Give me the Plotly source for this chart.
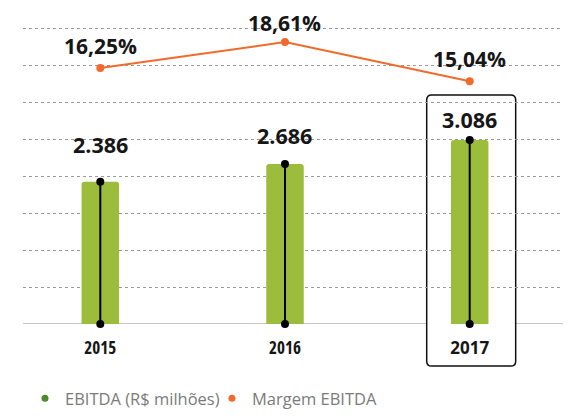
import plotly.graph_objects as go

# ---- data ----
years = ["2015", "2016", "2017"]
ebitda = [2386, 2686, 3086]                 # R$ milhões
ebitda_labels = ["2.386", "2.686", "3.086"]
margem = [16.25, 18.61, 15.04]              # %
margem_labels = ["16,25%", "18,61%", "15,04%"]
highlight_year = "2017"

# ---- style ----
GREEN = "#9bbd3b"
GREEN_DARK = "#4e8b2c"
ORANGE = "#f26a2b"
TEXT = "#161616"
FONT = "Open Sans"

x = list(range(len(years)))
hi = years.index(highlight_year)

fig = go.Figure()

# bars
fig.add_bar(x=x, y=ebitda, width=0.203, marker=dict(color=GREEN, line_width=0,
            cornerradius=3), showlegend=False, hoverinfo="skip")

# stems with dots
sx, sy = [], []
for xi, v in zip(x, ebitda):
    sx += [xi, xi, None]
    sy += [0, v, None]
fig.add_scatter(x=sx, y=sy, mode="lines+markers",
                line=dict(color="black", width=2),
                marker=dict(color="black", size=8),
                cliponaxis=False, showlegend=False, hoverinfo="skip")

# margin line
fig.add_scatter(x=x, y=margem, yaxis="y2", mode="lines+markers",
                line=dict(color=ORANGE, width=2),
                marker=dict(color=ORANGE, size=8),
                cliponaxis=False, showlegend=False, hoverinfo="skip")

# legend entries (dots)
fig.add_scatter(x=[None], y=[None], mode="markers",
                marker=dict(color=GREEN_DARK, size=7), name="EBITDA (R$ milhões)")
fig.add_scatter(x=[None], y=[None], mode="markers",
                marker=dict(color=ORANGE, size=7), name="Margem EBITDA")

# value labels
bar_shift = [37, 28.5, 21]
for xi, v, t, s in zip(x, ebitda, ebitda_labels, bar_shift):
    fig.add_annotation(x=xi, y=v, yref="y", text=t, showarrow=False,
                       yanchor="middle", yshift=s,
                       font=dict(family=FONT, size=21.5, color=TEXT, weight="bold"))
pct_shift = [22, 19.3, 22.6]
for xi, v, t, s in zip(x, margem, margem_labels, pct_shift):
    fig.add_annotation(x=xi, y=v, yref="y2", text=t, showarrow=False,
                       yanchor="middle", yshift=s,
                       font=dict(family=FONT, size=21, color=TEXT, weight="bold"))

# highlight box around 2017 (rounded)
x0, x1 = hi - 0.2328, hi + 0.249
y0, y1 = -0.1383, 0.7534
rx, ry = 0.0271, 0.0161
path = (f"M {x0+rx},{y1} L {x1-rx},{y1} Q {x1},{y1} {x1},{y1-ry} "
        f"L {x1},{y0+ry} Q {x1},{y0} {x1-rx},{y0} L {x0+rx},{y0} "
        f"Q {x0},{y0} {x0},{y0+ry} L {x0},{y1-ry} Q {x0},{y1} {x0+rx},{y1} Z")
fig.add_shape(type="line", xref="paper", yref="y", x0=0, x1=1, y0=0, y1=0,
              line=dict(color="#8a8a8a", width=1), layer="below")
fig.add_shape(type="path", path=path, xref="x", yref="paper",
              fillcolor="white", line=dict(color="#111111", width=1.5),
              layer="between")

ticktext = []
for y in years:
    if y == highlight_year:
        ticktext.append(y)
    else:
        ticktext.append(f"<span style='font-stretch:75%'>{y}</span>")

fig.update_layout(
    width=563, height=408,
    margin=dict(l=15, r=0, t=12, b=85),
    paper_bgcolor="white", plot_bgcolor="white",
    font=dict(family=FONT, color=TEXT),
    xaxis=dict(range=[-0.4185, 2.5485], tickvals=x, ticktext=ticktext,
               showgrid=False, zeroline=False, showline=False, ticks="",
               ticklabelstandoff=12,
               tickfont=dict(family=FONT, size=17, color=TEXT, weight="bold")),
    yaxis=dict(range=[0, 5100], tick0=0, dtick=620, showgrid=True,
               gridcolor="#9a9a9a", griddash="dot", gridwidth=1,
               showticklabels=False, zeroline=False, ticks=""),
    yaxis2=dict(range=[-7.14, 20.63], overlaying="y", visible=False),
    legend=dict(orientation="h", x=0.0036, xanchor="left", y=-0.2466,
                yanchor="middle", entrywidth=142, entrywidthmode="pixels",
                font=dict(family=FONT, size=16.5, color="#7b7b7b"),
                itemclick=False, itemdoubleclick=False, bgcolor="rgba(0,0,0,0)"),
    showlegend=True,
)

fig.write_html("out.html")
